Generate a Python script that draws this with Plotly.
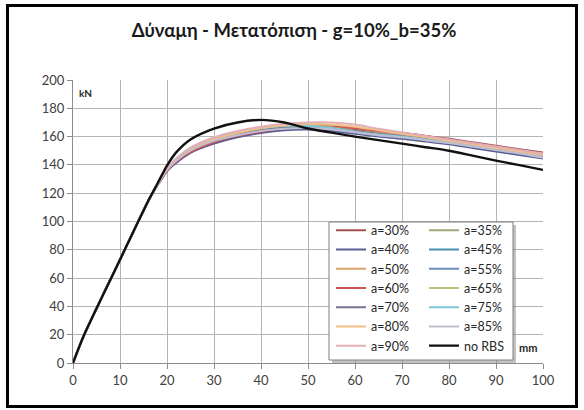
import plotly.graph_objects as go

# ---- data ----
x_init = [0, 2.2, 10, 16]
y_init = [0, 18.6, 73, 114.5]
x_main = [18, 20, 22, 25, 30, 35, 40, 45, 50, 55, 60, 65, 70, 75, 80, 85, 90, 95, 100]

series_names = ["a=30%", "a=35%", "a=40%", "a=45%", "a=50%", "a=55%", "a=60%",
                "a=65%", "a=70%", "a=75%", "a=80%", "a=85%", "a=90%"]
a30 = [126, 136, 142, 149, 155.5, 160, 163, 165.5, 166.5, 166, 165, 163.5, 162.5, 160.5, 158.5, 156, 153.5, 151, 148.7]
a35 = [126, 136.5, 142.5, 149.5, 156, 160.5, 163.5, 165.5, 166, 165, 163, 161, 159.5, 157.5, 155.5, 153, 150.5, 148, 145.5]
a40 = [125.5, 135.5, 141.5, 148.5, 155, 159.5, 162.5, 164.5, 165, 164, 162, 160, 158.5, 156.5, 154.5, 152, 149.5, 147, 144.5]
a45 = [126, 136.5, 143, 150, 157, 161, 164, 166, 166.5, 165.5, 163, 161, 159.5, 157.5, 155.5, 153, 150.5, 148, 145.5]
a50 = [126, 137, 143.5, 150.5, 157.5, 162, 165, 167, 168, 167.5, 166, 163.5, 161.5, 159, 156.5, 154, 151.5, 149, 146.5]
a55 = [126.5, 137, 144, 151, 158, 162, 165, 166.5, 167, 165.5, 163, 161, 159.5, 157.5, 155.5, 153.5, 151, 148.5, 146]
a60 = [126, 136, 142.5, 149, 156, 160.5, 163.5, 166, 167, 167, 166, 164, 162.5, 160.5, 158, 155.5, 153, 150.5, 148]
a65 = [126.5, 137.5, 144, 151.5, 158.5, 162.5, 165.5, 167, 167.5, 166.5, 164, 162, 160, 158, 156, 153.5, 151, 148.5, 146]
a70 = [126, 136.5, 143, 150, 157, 161.5, 164.5, 166.5, 167, 166, 164, 162, 160.5, 158.5, 156.5, 154, 151.5, 149, 146.5]
a75 = [126.5, 137.5, 144.5, 152, 159, 163, 166, 167.5, 167.5, 166, 163.5, 161.5, 160, 158, 156, 153.5, 151, 148.5, 146]
a80 = [126.5, 137, 144, 151, 158, 162.5, 166, 168, 169, 168.5, 167, 164.5, 162, 159.5, 157, 154.5, 152, 149.5, 147]
a85 = [126, 136.5, 143, 150, 157, 161, 164, 165.5, 166, 165, 163, 161, 159.5, 157.5, 155.5, 153, 150.5, 148, 145]
a90 = [126.5, 137.5, 144.5, 152, 159.5, 164, 167, 169, 170, 170, 168.5, 165.5, 163, 160.5, 158, 155.5, 153, 150.5, 148]
no_rbs = [127, 139.5, 149, 158, 165.7, 170, 171.8, 170, 165.7, 162.8, 160, 157.5, 155, 152.5, 150, 146.5, 143, 139.8, 136.5]

series_values = [a30, a35, a40, a45, a50, a55, a60, a65, a70, a75, a80, a85, a90]
series_colors = ["#A0524F", "#9FA77A", "#5B5E95", "#4A8FAF", "#D9A36A", "#6A8DB8", "#CC5555",
                 "#B5C97A", "#7A7390", "#7CC6D6", "#F2BE83", "#C0BDD0", "#E2AFB6"]

x_ticks = [0, 10, 20, 30, 40, 50, 60, 70, 80, 90, 100]
y_ticks = [0, 20, 40, 60, 80, 100, 120, 140, 160, 180, 200]

title_text = "Δύναμη - Μετατόπιση - g=10%_b=35%"
FONT = "Lato, 'Open Sans', sans-serif"

fig = go.Figure()
for i, (name, vals, col) in enumerate(zip(series_names, series_values, series_colors)):
    fig.add_trace(go.Scatter(
        x=x_init + x_main, y=y_init + vals, mode="lines", name=name,
        line=dict(color=col, width=2, shape="spline", smoothing=0.7),
        legend="legend" if i % 2 == 0 else "legend2",
    ))
fig.add_trace(go.Scatter(
    x=x_init + x_main, y=y_init + no_rbs, mode="lines", name="no RBS",
    line=dict(color="#111111", width=2.4, shape="spline", smoothing=0.7),
    legend="legend2",
))

L, R, T, B = 73, 41, 80, 47
W, H = 584, 410
pw, ph = W - L - R, H - T - B

def px_x(p):
    return (p - L) / pw

def px_y(p):
    return (H - B - p) / ph

leg_font = dict(family=FONT, size=12.5, color="#262626")
fig.update_layout(
    width=W, height=H,
    margin=dict(l=L, r=R, t=T, b=B),
    paper_bgcolor="white", plot_bgcolor="white",
    showlegend=True,
    legend=dict(x=px_x(331), y=px_y(215.5), xanchor="left", yanchor="top",
                bgcolor="rgba(0,0,0,0)", borderwidth=0, font=leg_font,
                itemclick=False, tracegroupgap=0),
    legend2=dict(x=px_x(424), y=px_y(215.5), xanchor="left", yanchor="top",
                 bgcolor="rgba(0,0,0,0)", borderwidth=0, font=leg_font,
                 itemclick=False, tracegroupgap=0),
    title=dict(text="<b>" + title_text + "</b>", x=294 / W, xanchor="center",
               y=1 - 31 / H, yanchor="middle",
               font=dict(family=FONT, size=18.5, color="#1a1a1a")),
    xaxis=dict(range=[0, 100], tickvals=x_ticks, ticks="outside", ticklen=5,
               tickcolor="#8c8c8c", showline=True, linecolor="#8c8c8c", linewidth=1,
               showgrid=True, gridcolor="#b4b4b4", gridwidth=1, zeroline=False,
               tickfont=dict(family=FONT, size=13, color="#404040")),
    yaxis=dict(range=[0, 200], tickvals=y_ticks, ticks="outside", ticklen=5,
               tickcolor="#8c8c8c", showline=True, linecolor="#8c8c8c", linewidth=1,
               showgrid=True, gridcolor="#b4b4b4", gridwidth=1, zeroline=False,
               tickfont=dict(family=FONT, size=13, color="#404040")),
    shapes=[
        # legend shadow
        dict(type="rect", xref="paper", yref="paper", layer="above",
             x0=px_x(332), x1=px_x(516), y0=px_y(225), y1=px_y(363),
             fillcolor="rgba(120,120,120,0.45)", line=dict(width=0)),
        # legend box
        dict(type="rect", xref="paper", yref="paper", layer="above",
             x0=px_x(329), x1=px_x(513), y0=px_y(222), y1=px_y(360),
             fillcolor="white", line=dict(color="#7f7f7f", width=1)),
        # outer chart frame
        dict(type="rect", xref="paper", yref="paper", layer="above",
             x0=px_x(7.5), x1=px_x(576.5), y0=px_y(406.5), y1=px_y(5.5),
             line=dict(color="black", width=3)),
    ],
    annotations=[
        dict(text="<b>kN</b>", x=px_x(77), y=px_y(93), xref="paper", yref="paper",
             xanchor="left", yanchor="middle", showarrow=False,
             font=dict(family=FONT, size=10, color="#262626")),
        dict(text="<b>mm</b>", x=px_x(528), y=px_y(347), xref="paper", yref="paper",
             xanchor="center", yanchor="middle", showarrow=False,
             font=dict(family=FONT, size=11, color="#262626")),
    ],
)

fig.write_html("out.html")
